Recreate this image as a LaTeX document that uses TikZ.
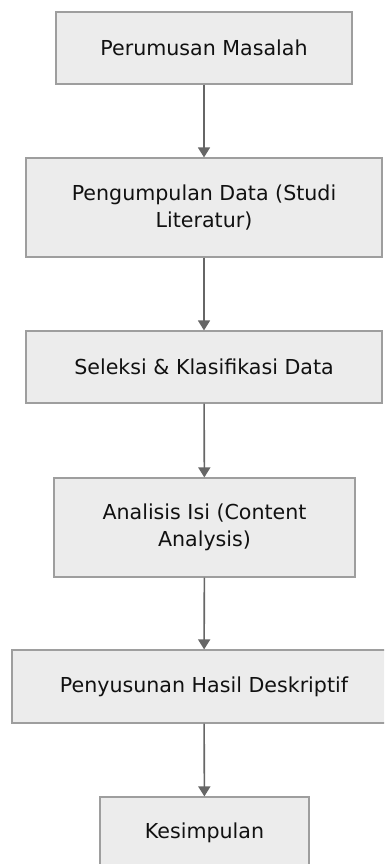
\documentclass[tikz,border=0pt]{standalone}
\usepackage{fontspec}
\setmainfont{DejaVu Sans}
\usetikzlibrary{arrows.meta}
\definecolor{boxfill}{HTML}{ECECEC}
\definecolor{boxline}{HTML}{9E9E9E}
\definecolor{arrowc}{HTML}{666666}
\definecolor{txt}{HTML}{111111}
\begin{document}
\begin{tikzpicture}[x=1pt,y=-1pt,
  stepbox/.style={draw=boxline,fill=boxfill,line width=1.2pt,rectangle,inner sep=0pt,
    align=center,font=\fontsize{20.6}{26.5}\selectfont,text=txt},
  conn/.style={draw=arrowc,line width=1.6pt,-{Triangle[width=12pt,length=10pt]}}]
\useasboundingbox (0,0) rectangle (384,864);
\clip (0,0) rectangle (384,864);
\fill[white] (0,0) rectangle (384,864);
\node[stepbox,minimum width=296pt,minimum height=72pt] (a) at (204,48) {Perumusan Masalah};
\node[stepbox,minimum width=356pt,minimum height=99pt] (b) at (204,207.5) {Pengumpulan Data (Studi\\Literatur)};
\node[stepbox,minimum width=356pt,minimum height=72pt] (c) at (204,367) {Seleksi \& Klasifikasi Data};
\node[stepbox,minimum width=301pt,minimum height=99pt] (d) at (204.5,527.5) {Analisis Isi (Content\\Analysis)};
\node[stepbox,minimum width=384pt,minimum height=73pt] (e) at (204,686.5) {Penyusunan Hasil Deskriptif};
\node[stepbox,minimum width=209pt,minimum height=72pt] (f) at (204.5,833) {Kesimpulan};
\draw[conn] (a) -- (b);
\draw[conn] (b) -- (c);
\draw[conn] (c) -- (d);
\draw[conn] (d) -- (e);
\draw[conn] (e) -- (f);
\end{tikzpicture}
\end{document}
